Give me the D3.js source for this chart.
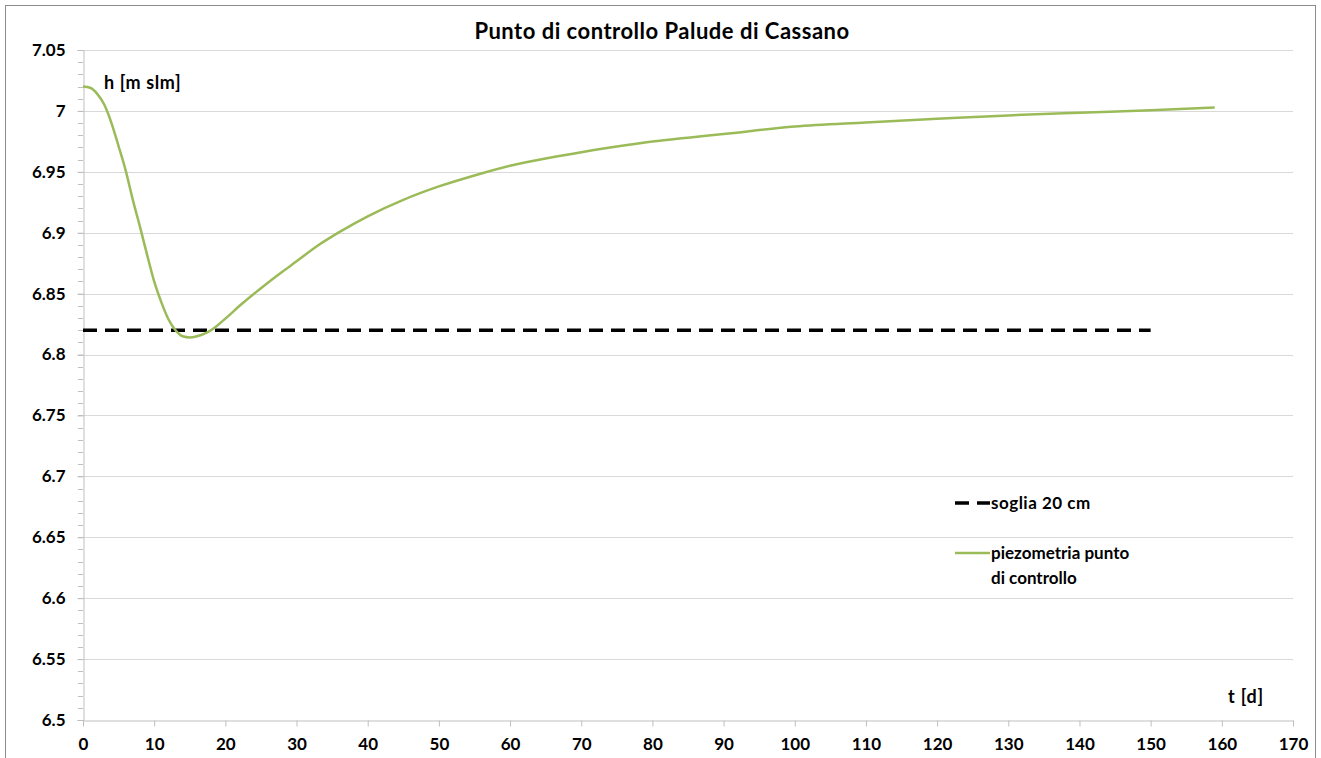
<!DOCTYPE html>
<html>
<head>
<meta charset="utf-8">
<script src="https://cdn.jsdelivr.net/npm/d3@7"></script>
<style>
  html, body { margin: 0; padding: 0; background: #fff; }
  svg { display: block; font-family: Lato, "Open Sans", sans-serif; }
</style>
</head>
<body>
<svg id="chart" width="1321" height="758"></svg>
<script>
// Piezometric head at the control point (days vs m slm)
const days = [0,1,2,3,4,5,6,7,8,9,10,11,12,13,14,15,16,17,18,20,22,25,28,30,33,36,40,45,50,55,60,65,70,75,80,85,90,100,110,120,130,140,150,159];
const head = [7.020,7.019,7.014,7.005,6.990,6.971,6.951,6.927,6.905,6.882,6.860,6.843,6.829,6.820,6.815,6.814,6.815,6.817,6.820,6.8295,6.8400,6.8545,6.868,6.8765,6.8895,6.9005,6.9135,6.927,6.938,6.947,6.955,6.961,6.966,6.9707,6.9748,6.978,6.981,6.9872,6.9905,6.9935,6.9963,6.9985,7.0005,7.0027];

// Threshold (20 cm drawdown)
const thresholdDays = [0, 150];
const thresholdLevel = [6.82, 6.82];

const xTicks = d3.range(0, 171, 10);
const yTicks = [6.5,6.55,6.6,6.65,6.7,6.75,6.8,6.85,6.9,6.95,7,7.05];
const yMinorTicks = d3.range(650, 706, 1).map(v => v / 100);

const title = "Punto di controllo Palude di Cassano";
const legendLabels = ["soglia 20 cm", ["piezometria punto", "di controllo"]];

const svg = d3.select("#chart");
const plotLeft = 83, plotRight = 1293, plotTop = 50, plotBottom = 720;

const x = d3.scaleLinear().domain([0, 170]).range([plotLeft, plotRight]);
const y = d3.scaleLinear().domain([6.5, 7.05]).range([plotBottom, plotTop]);

// outer frame
svg.append("rect").attr("x", 5.5).attr("y", 5.5).attr("width", 1310).attr("height", 760)
  .attr("fill", "none").attr("stroke", "#8c8c8c").attr("stroke-width", 1);

// gridlines
svg.append("g").selectAll("line").data(yTicks.filter(d => d > 6.5)).join("line")
  .attr("x1", plotLeft).attr("x2", plotRight)
  .attr("y1", d => Math.round(y(d)) + 0.5).attr("y2", d => Math.round(y(d)) + 0.5)
  .attr("stroke", "#d9d9d9").attr("stroke-width", 1);

// minor y ticks
svg.append("g").selectAll("line").data(yMinorTicks).join("line")
  .attr("x1", plotLeft - 5).attr("x2", plotLeft)
  .attr("y1", d => Math.round(y(d)) + 0.5).attr("y2", d => Math.round(y(d)) + 0.5)
  .attr("stroke", "#bfbfbf");

// y axis
const yAxis = d3.axisLeft(y).tickValues(yTicks).tickSize(6).tickPadding(12)
  .tickFormat(d => String(+d.toFixed(2)));
const gy = svg.append("g").attr("transform", `translate(${plotLeft + 0.5},0)`).call(yAxis);
gy.select(".domain").attr("stroke", "#bfbfbf");
gy.selectAll(".tick line").attr("stroke", "#bfbfbf");
gy.selectAll(".tick text").attr("font-family", "Lato, sans-serif").attr("font-weight", "bold")
  .attr("font-size", 17).attr("fill", "#000");

// x axis
const xAxis = d3.axisBottom(x).tickValues(xTicks).tickSize(6).tickPadding(11).tickSizeOuter(0);
const gx = svg.append("g").attr("transform", `translate(0,${plotBottom + 0.5})`).call(xAxis);
gx.select(".domain").attr("stroke", "#bfbfbf");
gx.selectAll(".tick line").attr("stroke", "#bfbfbf");
gx.selectAll(".tick text").attr("font-family", "Lato, sans-serif").attr("font-weight", "bold")
  .attr("font-size", 17).attr("fill", "#000");

// threshold line
const thrData = thresholdDays.map((d, i) => [d, thresholdLevel[i]]);
svg.append("path").datum(thrData)
  .attr("d", d3.line().x(d => x(d[0])).y(d => y(d[1])))
  .attr("fill", "none").attr("stroke", "#000").attr("stroke-width", 3.5)
  .attr("stroke-dasharray", "14,8");

// head curve
const headData = days.map((d, i) => [d, head[i]]);
svg.append("path").datum(headData)
  .attr("d", d3.line().x(d => x(d[0])).y(d => y(d[1])).curve(d3.curveMonotoneX))
  .attr("fill", "none").attr("stroke", "#9bbb59").attr("stroke-width", 2.5);

// title
svg.append("text").attr("x", 662).attr("y", 39).attr("text-anchor", "middle")
  .attr("font-weight", "bold").attr("font-size", 22).attr("letter-spacing", 0.5).text(title);

// axis titles
svg.append("text").attr("x", 104).attr("y", 89).attr("font-weight", "bold").attr("font-size", 18)
  .attr("letter-spacing", 0.6).text("h [m slm]");
svg.append("text").attr("x", 1228).attr("y", 703).attr("font-weight", "bold").attr("font-size", 18)
  .attr("letter-spacing", 0.8).text("t [d]");

// legend
const lg = svg.append("g");
lg.append("line").attr("x1", 955).attr("x2", 990).attr("y1", 503).attr("y2", 503)
  .attr("stroke", "#000").attr("stroke-width", 3.5).attr("stroke-dasharray", "14,8");
lg.append("text").attr("x", 991).attr("y", 509).attr("font-weight", "bold").attr("font-size", 17)
  .attr("letter-spacing", 0.5).text(legendLabels[0]);
lg.append("line").attr("x1", 955).attr("x2", 990).attr("y1", 553).attr("y2", 553)
  .attr("stroke", "#9bbb59").attr("stroke-width", 2.5);
const t2 = lg.append("text").attr("x", 991).attr("y", 559).attr("font-weight", "bold").attr("font-size", 17);
t2.selectAll("tspan").data(legendLabels[1]).join("tspan")
  .attr("x", 991).attr("dy", (d, i) => i === 0 ? 0 : 25).text(d => d);
</script>
</body>
</html>
